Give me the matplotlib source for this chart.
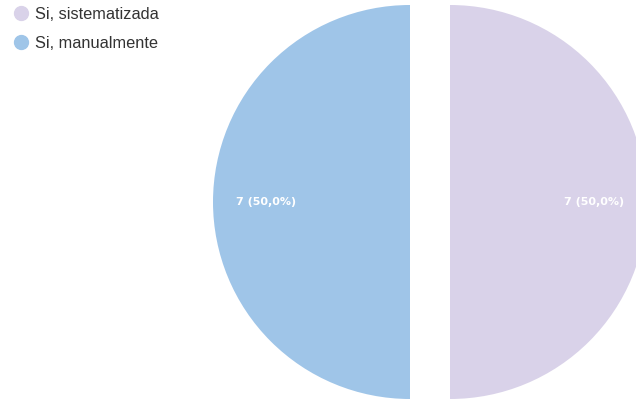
import matplotlib
matplotlib.use("Agg")
import matplotlib.pyplot as plt
from matplotlib.lines import Line2D
import numpy as np

categories = ["Si, sistematizada", "Si, manualmente"]
values = [7, 7]
colors = ["#d9d2e9", "#9fc5e8"]

fig = plt.figure(figsize=(6.36, 4.0), dpi=100)
ax = fig.add_axes([0, 0, 1, 1])

total = sum(values)

def fmt(p):
    n = round(p * total / 100)
    return f"{n} ({p:.1f}%)".replace(".", ",")

R = 197
wedges = ax.pie(values, colors=colors, startangle=90, counterclock=False,
                center=(430, 198), radius=R, explode=[20, 20],
                wedgeprops=dict(linewidth=0))[0]
ax.set_xlim(0, 636)
ax.set_ylim(0, 400)
ax.set_aspect("equal")
ax.axis("off")

for w, v in zip(wedges, values):
    ang = np.deg2rad((w.theta1 + w.theta2) / 2)
    cx, cy = w.center
    ax.text(cx + 0.73 * R * np.cos(ang), cy + 0.73 * R * np.sin(ang),
            fmt(100 * v / total), color="white", fontsize=8, fontweight="bold",
            ha="center", va="center", family="DejaVu Sans")

handles = [Line2D([], [], marker="o", linestyle="none", markersize=10,
                  markerfacecolor=c, markeredgecolor=c) for c in colors]
leg = fig.legend(handles, categories, loc="upper left", bbox_to_anchor=(0.004, 1.003),
                 frameon=False, handletextpad=0.3, labelspacing=0.84,
                 prop=dict(family="Liberation Sans", size=11.8), borderaxespad=0.1,
                 handlelength=1.2)
for t in leg.get_texts():
    t.set_color("#333333")

fig.savefig("out.png", dpi=100)
